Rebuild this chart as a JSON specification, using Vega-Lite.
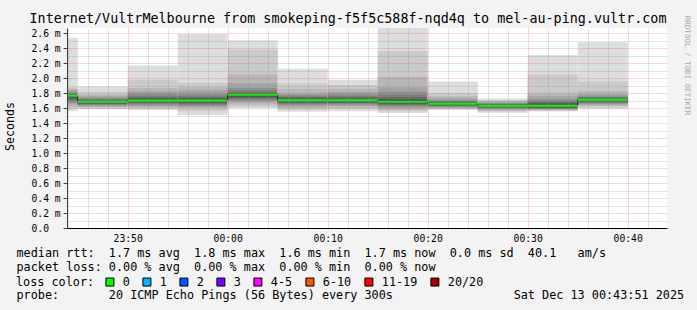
{
  "$schema": "https://vega.github.io/schema/vega-lite/v6.json",
  "width": 600,
  "height": 200,
  "autosize": {"type": "none"},
  "padding": {"left": 67, "top": 28, "right": 30, "bottom": 82},
  "background": "#f3f3f3",
  "view": {"fill": "white", "stroke": null},
  "config": {
    "font": "DejaVu Sans Mono",
    "axis": {"labelFont": "DejaVu Sans Mono", "titleFont": "DejaVu Sans Mono", "titleFontWeight": "normal", "labelColor": "black", "titleColor": "black"},
    "legend": {"labelFont": "DejaVu Sans Mono", "titleFont": "DejaVu Sans Mono"}
  },
  "title": {
    "text": "Internet/VultrMelbourne from smokeping-f5f5c588f-nqd4q to mel-au-ping.vultr.com",
    "font": "DejaVu Sans Mono",
    "fontSize": 13.4,
    "fontWeight": "normal",
    "color": "black",
    "anchor": "middle",
    "dx": -19,
    "dy": 14,
    "offset": 4
  },
  "datasets": {
    "bands": [
      {"start": "2025-12-12T23:40:00Z", "end": "2025-12-12T23:45:00Z", "band": 1, "lo": 1.557, "hi": 2.54},
      {"start": "2025-12-12T23:40:00Z", "end": "2025-12-12T23:45:00Z", "band": 2, "lo": 1.59, "hi": 1.88},
      {"start": "2025-12-12T23:40:00Z", "end": "2025-12-12T23:45:00Z", "band": 3, "lo": 1.62, "hi": 1.86},
      {"start": "2025-12-12T23:40:00Z", "end": "2025-12-12T23:45:00Z", "band": 4, "lo": 1.65, "hi": 1.84},
      {"start": "2025-12-12T23:40:00Z", "end": "2025-12-12T23:45:00Z", "band": 5, "lo": 1.67, "hi": 1.82},
      {"start": "2025-12-12T23:40:00Z", "end": "2025-12-12T23:45:00Z", "band": 6, "lo": 1.69, "hi": 1.8},
      {"start": "2025-12-12T23:40:00Z", "end": "2025-12-12T23:45:00Z", "band": 7, "lo": 1.71, "hi": 1.79},
      {"start": "2025-12-12T23:40:00Z", "end": "2025-12-12T23:45:00Z", "band": 8, "lo": 1.73, "hi": 1.78},
      {"start": "2025-12-12T23:40:00Z", "end": "2025-12-12T23:45:00Z", "band": 9, "lo": 1.75, "hi": 1.775},
      {"start": "2025-12-12T23:40:00Z", "end": "2025-12-12T23:45:00Z", "band": 10, "lo": 1.76, "hi": 1.77},

      {"start": "2025-12-12T23:45:00Z", "end": "2025-12-12T23:50:00Z", "band": 1, "lo": 1.59, "hi": 1.89},
      {"start": "2025-12-12T23:45:00Z", "end": "2025-12-12T23:50:00Z", "band": 2, "lo": 1.6, "hi": 1.82},
      {"start": "2025-12-12T23:45:00Z", "end": "2025-12-12T23:50:00Z", "band": 3, "lo": 1.612, "hi": 1.78},
      {"start": "2025-12-12T23:45:00Z", "end": "2025-12-12T23:50:00Z", "band": 4, "lo": 1.625, "hi": 1.76},
      {"start": "2025-12-12T23:45:00Z", "end": "2025-12-12T23:50:00Z", "band": 5, "lo": 1.635, "hi": 1.74},
      {"start": "2025-12-12T23:45:00Z", "end": "2025-12-12T23:50:00Z", "band": 6, "lo": 1.645, "hi": 1.725},
      {"start": "2025-12-12T23:45:00Z", "end": "2025-12-12T23:50:00Z", "band": 7, "lo": 1.655, "hi": 1.71},
      {"start": "2025-12-12T23:45:00Z", "end": "2025-12-12T23:50:00Z", "band": 8, "lo": 1.665, "hi": 1.7},
      {"start": "2025-12-12T23:45:00Z", "end": "2025-12-12T23:50:00Z", "band": 9, "lo": 1.675, "hi": 1.695},
      {"start": "2025-12-12T23:45:00Z", "end": "2025-12-12T23:50:00Z", "band": 10, "lo": 1.682, "hi": 1.69},

      {"start": "2025-12-12T23:50:00Z", "end": "2025-12-12T23:55:00Z", "band": 1, "lo": 1.575, "hi": 2.17},
      {"start": "2025-12-12T23:50:00Z", "end": "2025-12-12T23:55:00Z", "band": 2, "lo": 1.595, "hi": 1.98},
      {"start": "2025-12-12T23:50:00Z", "end": "2025-12-12T23:55:00Z", "band": 3, "lo": 1.61, "hi": 1.87},
      {"start": "2025-12-12T23:50:00Z", "end": "2025-12-12T23:55:00Z", "band": 4, "lo": 1.625, "hi": 1.83},
      {"start": "2025-12-12T23:50:00Z", "end": "2025-12-12T23:55:00Z", "band": 5, "lo": 1.64, "hi": 1.8},
      {"start": "2025-12-12T23:50:00Z", "end": "2025-12-12T23:55:00Z", "band": 6, "lo": 1.655, "hi": 1.77},
      {"start": "2025-12-12T23:50:00Z", "end": "2025-12-12T23:55:00Z", "band": 7, "lo": 1.67, "hi": 1.75},
      {"start": "2025-12-12T23:50:00Z", "end": "2025-12-12T23:55:00Z", "band": 8, "lo": 1.68, "hi": 1.73},
      {"start": "2025-12-12T23:50:00Z", "end": "2025-12-12T23:55:00Z", "band": 9, "lo": 1.69, "hi": 1.72},
      {"start": "2025-12-12T23:50:00Z", "end": "2025-12-12T23:55:00Z", "band": 10, "lo": 1.7, "hi": 1.71},

      {"start": "2025-12-12T23:55:00Z", "end": "2025-12-13T00:00:00Z", "band": 1, "lo": 1.505, "hi": 2.59},
      {"start": "2025-12-12T23:55:00Z", "end": "2025-12-13T00:00:00Z", "band": 2, "lo": 1.56, "hi": 1.94},
      {"start": "2025-12-12T23:55:00Z", "end": "2025-12-13T00:00:00Z", "band": 3, "lo": 1.6, "hi": 1.88},
      {"start": "2025-12-12T23:55:00Z", "end": "2025-12-13T00:00:00Z", "band": 4, "lo": 1.615, "hi": 1.84},
      {"start": "2025-12-12T23:55:00Z", "end": "2025-12-13T00:00:00Z", "band": 5, "lo": 1.63, "hi": 1.8},
      {"start": "2025-12-12T23:55:00Z", "end": "2025-12-13T00:00:00Z", "band": 6, "lo": 1.645, "hi": 1.77},
      {"start": "2025-12-12T23:55:00Z", "end": "2025-12-13T00:00:00Z", "band": 7, "lo": 1.66, "hi": 1.75},
      {"start": "2025-12-12T23:55:00Z", "end": "2025-12-13T00:00:00Z", "band": 8, "lo": 1.675, "hi": 1.73},
      {"start": "2025-12-12T23:55:00Z", "end": "2025-12-13T00:00:00Z", "band": 9, "lo": 1.69, "hi": 1.72},
      {"start": "2025-12-12T23:55:00Z", "end": "2025-12-13T00:00:00Z", "band": 10, "lo": 1.7, "hi": 1.71},

      {"start": "2025-12-13T00:00:00Z", "end": "2025-12-13T00:05:00Z", "band": 1, "lo": 1.597, "hi": 2.505},
      {"start": "2025-12-13T00:00:00Z", "end": "2025-12-13T00:05:00Z", "band": 2, "lo": 1.62, "hi": 2.38},
      {"start": "2025-12-13T00:00:00Z", "end": "2025-12-13T00:05:00Z", "band": 3, "lo": 1.65, "hi": 2.05},
      {"start": "2025-12-13T00:00:00Z", "end": "2025-12-13T00:05:00Z", "band": 4, "lo": 1.68, "hi": 1.935},
      {"start": "2025-12-13T00:00:00Z", "end": "2025-12-13T00:05:00Z", "band": 5, "lo": 1.7, "hi": 1.87},
      {"start": "2025-12-13T00:00:00Z", "end": "2025-12-13T00:05:00Z", "band": 6, "lo": 1.717, "hi": 1.84},
      {"start": "2025-12-13T00:00:00Z", "end": "2025-12-13T00:05:00Z", "band": 7, "lo": 1.73, "hi": 1.81},
      {"start": "2025-12-13T00:00:00Z", "end": "2025-12-13T00:05:00Z", "band": 8, "lo": 1.745, "hi": 1.8},
      {"start": "2025-12-13T00:00:00Z", "end": "2025-12-13T00:05:00Z", "band": 9, "lo": 1.76, "hi": 1.79},
      {"start": "2025-12-13T00:00:00Z", "end": "2025-12-13T00:05:00Z", "band": 10, "lo": 1.775, "hi": 1.785},

      {"start": "2025-12-13T00:05:00Z", "end": "2025-12-13T00:10:00Z", "band": 1, "lo": 1.553, "hi": 2.127},
      {"start": "2025-12-13T00:05:00Z", "end": "2025-12-13T00:10:00Z", "band": 2, "lo": 1.58, "hi": 1.93},
      {"start": "2025-12-13T00:05:00Z", "end": "2025-12-13T00:10:00Z", "band": 3, "lo": 1.6, "hi": 1.855},
      {"start": "2025-12-13T00:05:00Z", "end": "2025-12-13T00:10:00Z", "band": 4, "lo": 1.62, "hi": 1.8},
      {"start": "2025-12-13T00:05:00Z", "end": "2025-12-13T00:10:00Z", "band": 5, "lo": 1.64, "hi": 1.78},
      {"start": "2025-12-13T00:05:00Z", "end": "2025-12-13T00:10:00Z", "band": 6, "lo": 1.655, "hi": 1.76},
      {"start": "2025-12-13T00:05:00Z", "end": "2025-12-13T00:10:00Z", "band": 7, "lo": 1.67, "hi": 1.745},
      {"start": "2025-12-13T00:05:00Z", "end": "2025-12-13T00:10:00Z", "band": 8, "lo": 1.68, "hi": 1.73},
      {"start": "2025-12-13T00:05:00Z", "end": "2025-12-13T00:10:00Z", "band": 9, "lo": 1.69, "hi": 1.72},
      {"start": "2025-12-13T00:05:00Z", "end": "2025-12-13T00:10:00Z", "band": 10, "lo": 1.7, "hi": 1.71},

      {"start": "2025-12-13T00:10:00Z", "end": "2025-12-13T00:15:00Z", "band": 1, "lo": 1.56, "hi": 1.98},
      {"start": "2025-12-13T00:10:00Z", "end": "2025-12-13T00:15:00Z", "band": 2, "lo": 1.59, "hi": 1.91},
      {"start": "2025-12-13T00:10:00Z", "end": "2025-12-13T00:15:00Z", "band": 3, "lo": 1.61, "hi": 1.86},
      {"start": "2025-12-13T00:10:00Z", "end": "2025-12-13T00:15:00Z", "band": 4, "lo": 1.63, "hi": 1.82},
      {"start": "2025-12-13T00:10:00Z", "end": "2025-12-13T00:15:00Z", "band": 5, "lo": 1.645, "hi": 1.79},
      {"start": "2025-12-13T00:10:00Z", "end": "2025-12-13T00:15:00Z", "band": 6, "lo": 1.66, "hi": 1.765},
      {"start": "2025-12-13T00:10:00Z", "end": "2025-12-13T00:15:00Z", "band": 7, "lo": 1.67, "hi": 1.745},
      {"start": "2025-12-13T00:10:00Z", "end": "2025-12-13T00:15:00Z", "band": 8, "lo": 1.68, "hi": 1.73},
      {"start": "2025-12-13T00:10:00Z", "end": "2025-12-13T00:15:00Z", "band": 9, "lo": 1.69, "hi": 1.72},
      {"start": "2025-12-13T00:10:00Z", "end": "2025-12-13T00:15:00Z", "band": 10, "lo": 1.7, "hi": 1.71},

      {"start": "2025-12-13T00:15:00Z", "end": "2025-12-13T00:20:00Z", "band": 1, "lo": 1.535, "hi": 2.67},
      {"start": "2025-12-13T00:15:00Z", "end": "2025-12-13T00:20:00Z", "band": 2, "lo": 1.56, "hi": 2.36},
      {"start": "2025-12-13T00:15:00Z", "end": "2025-12-13T00:20:00Z", "band": 3, "lo": 1.58, "hi": 2.02},
      {"start": "2025-12-13T00:15:00Z", "end": "2025-12-13T00:20:00Z", "band": 4, "lo": 1.6, "hi": 1.88},
      {"start": "2025-12-13T00:15:00Z", "end": "2025-12-13T00:20:00Z", "band": 5, "lo": 1.62, "hi": 1.82},
      {"start": "2025-12-13T00:15:00Z", "end": "2025-12-13T00:20:00Z", "band": 6, "lo": 1.635, "hi": 1.78},
      {"start": "2025-12-13T00:15:00Z", "end": "2025-12-13T00:20:00Z", "band": 7, "lo": 1.65, "hi": 1.75},
      {"start": "2025-12-13T00:15:00Z", "end": "2025-12-13T00:20:00Z", "band": 8, "lo": 1.66, "hi": 1.72},
      {"start": "2025-12-13T00:15:00Z", "end": "2025-12-13T00:20:00Z", "band": 9, "lo": 1.67, "hi": 1.705},
      {"start": "2025-12-13T00:15:00Z", "end": "2025-12-13T00:20:00Z", "band": 10, "lo": 1.68, "hi": 1.695},

      {"start": "2025-12-13T00:20:00Z", "end": "2025-12-13T00:25:00Z", "band": 1, "lo": 1.58, "hi": 1.957},
      {"start": "2025-12-13T00:20:00Z", "end": "2025-12-13T00:25:00Z", "band": 2, "lo": 1.585, "hi": 1.8},
      {"start": "2025-12-13T00:20:00Z", "end": "2025-12-13T00:25:00Z", "band": 3, "lo": 1.595, "hi": 1.76},
      {"start": "2025-12-13T00:20:00Z", "end": "2025-12-13T00:25:00Z", "band": 4, "lo": 1.605, "hi": 1.73},
      {"start": "2025-12-13T00:20:00Z", "end": "2025-12-13T00:25:00Z", "band": 5, "lo": 1.615, "hi": 1.71},
      {"start": "2025-12-13T00:20:00Z", "end": "2025-12-13T00:25:00Z", "band": 6, "lo": 1.625, "hi": 1.695},
      {"start": "2025-12-13T00:20:00Z", "end": "2025-12-13T00:25:00Z", "band": 7, "lo": 1.635, "hi": 1.685},
      {"start": "2025-12-13T00:20:00Z", "end": "2025-12-13T00:25:00Z", "band": 8, "lo": 1.64, "hi": 1.675},
      {"start": "2025-12-13T00:20:00Z", "end": "2025-12-13T00:25:00Z", "band": 9, "lo": 1.65, "hi": 1.67},
      {"start": "2025-12-13T00:20:00Z", "end": "2025-12-13T00:25:00Z", "band": 10, "lo": 1.655, "hi": 1.665},

      {"start": "2025-12-13T00:25:00Z", "end": "2025-12-13T00:30:00Z", "band": 1, "lo": 1.54, "hi": 1.73},
      {"start": "2025-12-13T00:25:00Z", "end": "2025-12-13T00:30:00Z", "band": 2, "lo": 1.555, "hi": 1.71},
      {"start": "2025-12-13T00:25:00Z", "end": "2025-12-13T00:30:00Z", "band": 3, "lo": 1.57, "hi": 1.695},
      {"start": "2025-12-13T00:25:00Z", "end": "2025-12-13T00:30:00Z", "band": 4, "lo": 1.58, "hi": 1.68},
      {"start": "2025-12-13T00:25:00Z", "end": "2025-12-13T00:30:00Z", "band": 5, "lo": 1.59, "hi": 1.67},
      {"start": "2025-12-13T00:25:00Z", "end": "2025-12-13T00:30:00Z", "band": 6, "lo": 1.6, "hi": 1.66},
      {"start": "2025-12-13T00:25:00Z", "end": "2025-12-13T00:30:00Z", "band": 7, "lo": 1.61, "hi": 1.655},
      {"start": "2025-12-13T00:25:00Z", "end": "2025-12-13T00:30:00Z", "band": 8, "lo": 1.618, "hi": 1.648},
      {"start": "2025-12-13T00:25:00Z", "end": "2025-12-13T00:30:00Z", "band": 9, "lo": 1.625, "hi": 1.642},
      {"start": "2025-12-13T00:25:00Z", "end": "2025-12-13T00:30:00Z", "band": 10, "lo": 1.63, "hi": 1.637},

      {"start": "2025-12-13T00:30:00Z", "end": "2025-12-13T00:35:00Z", "band": 1, "lo": 1.555, "hi": 2.31},
      {"start": "2025-12-13T00:30:00Z", "end": "2025-12-13T00:35:00Z", "band": 2, "lo": 1.565, "hi": 2.05},
      {"start": "2025-12-13T00:30:00Z", "end": "2025-12-13T00:35:00Z", "band": 3, "lo": 1.575, "hi": 1.8},
      {"start": "2025-12-13T00:30:00Z", "end": "2025-12-13T00:35:00Z", "band": 4, "lo": 1.58, "hi": 1.76},
      {"start": "2025-12-13T00:30:00Z", "end": "2025-12-13T00:35:00Z", "band": 5, "lo": 1.59, "hi": 1.72},
      {"start": "2025-12-13T00:30:00Z", "end": "2025-12-13T00:35:00Z", "band": 6, "lo": 1.595, "hi": 1.7},
      {"start": "2025-12-13T00:30:00Z", "end": "2025-12-13T00:35:00Z", "band": 7, "lo": 1.6, "hi": 1.68},
      {"start": "2025-12-13T00:30:00Z", "end": "2025-12-13T00:35:00Z", "band": 8, "lo": 1.61, "hi": 1.665},
      {"start": "2025-12-13T00:30:00Z", "end": "2025-12-13T00:35:00Z", "band": 9, "lo": 1.62, "hi": 1.65},
      {"start": "2025-12-13T00:30:00Z", "end": "2025-12-13T00:35:00Z", "band": 10, "lo": 1.628, "hi": 1.64},

      {"start": "2025-12-13T00:35:00Z", "end": "2025-12-13T00:40:00Z", "band": 1, "lo": 1.593, "hi": 2.48},
      {"start": "2025-12-13T00:35:00Z", "end": "2025-12-13T00:40:00Z", "band": 2, "lo": 1.61, "hi": 1.96},
      {"start": "2025-12-13T00:35:00Z", "end": "2025-12-13T00:40:00Z", "band": 3, "lo": 1.63, "hi": 1.83},
      {"start": "2025-12-13T00:35:00Z", "end": "2025-12-13T00:40:00Z", "band": 4, "lo": 1.645, "hi": 1.79},
      {"start": "2025-12-13T00:35:00Z", "end": "2025-12-13T00:40:00Z", "band": 5, "lo": 1.66, "hi": 1.765},
      {"start": "2025-12-13T00:35:00Z", "end": "2025-12-13T00:40:00Z", "band": 6, "lo": 1.67, "hi": 1.75},
      {"start": "2025-12-13T00:35:00Z", "end": "2025-12-13T00:40:00Z", "band": 7, "lo": 1.68, "hi": 1.74},
      {"start": "2025-12-13T00:35:00Z", "end": "2025-12-13T00:40:00Z", "band": 8, "lo": 1.69, "hi": 1.73},
      {"start": "2025-12-13T00:35:00Z", "end": "2025-12-13T00:40:00Z", "band": 9, "lo": 1.7, "hi": 1.72},
      {"start": "2025-12-13T00:35:00Z", "end": "2025-12-13T00:40:00Z", "band": 10, "lo": 1.71, "hi": 1.715}
    ],
    "median": [
      {"start": "2025-12-12T23:40:00Z", "end": "2025-12-12T23:45:00Z", "med": 1.766, "loss": "0"},
      {"start": "2025-12-12T23:45:00Z", "end": "2025-12-12T23:50:00Z", "med": 1.686, "loss": "0"},
      {"start": "2025-12-12T23:50:00Z", "end": "2025-12-12T23:55:00Z", "med": 1.702, "loss": "0"},
      {"start": "2025-12-12T23:55:00Z", "end": "2025-12-13T00:00:00Z", "med": 1.702, "loss": "0"},
      {"start": "2025-12-13T00:00:00Z", "end": "2025-12-13T00:05:00Z", "med": 1.78, "loss": "0"},
      {"start": "2025-12-13T00:05:00Z", "end": "2025-12-13T00:10:00Z", "med": 1.704, "loss": "0"},
      {"start": "2025-12-13T00:10:00Z", "end": "2025-12-13T00:15:00Z", "med": 1.704, "loss": "0"},
      {"start": "2025-12-13T00:15:00Z", "end": "2025-12-13T00:20:00Z", "med": 1.686, "loss": "0"},
      {"start": "2025-12-13T00:20:00Z", "end": "2025-12-13T00:25:00Z", "med": 1.66, "loss": "0"},
      {"start": "2025-12-13T00:25:00Z", "end": "2025-12-13T00:30:00Z", "med": 1.633, "loss": "0"},
      {"start": "2025-12-13T00:30:00Z", "end": "2025-12-13T00:35:00Z", "med": 1.633, "loss": "0"},
      {"start": "2025-12-13T00:35:00Z", "end": "2025-12-13T00:40:00Z", "med": 1.713, "loss": "0"}
    ]
  },
  "layer": [
    {
      "data": {"name": "bands"},
      "mark": {"type": "rect", "clip": true},
      "encoding": {
        "x": {
          "field": "start", "type": "temporal",
          "scale": {"type": "utc", "domain": [1765583036000, 1765586636000]},
          "axis": {
            "orient": "bottom",
            "values": [1765583400000, 1765584000000, 1765584600000, 1765585200000, 1765585800000, 1765586400000],
            "labelExpr": "utcFormat(datum.value, '%H:%M')",
            "labelFontSize": 9.7,
            "labelPadding": 5,
            "labelFlush": false,
            "labelOverlap": false,
            "ticks": false,
            "domainColor": "black",
            "domainWidth": 1,
            "grid": true,
            "gridColor": "#de5050",
            "gridOpacity": 0.45,
            "gridDash": [1, 1],
            "gridWidth": 1,
            "zindex": 2,
            "title": [
              "median rtt:\u00a0\u00a01.7 ms avg\u00a0\u00a01.8 ms max\u00a0\u00a01.6 ms min\u00a0\u00a01.7 ms now\u00a0\u00a00.0 ms sd\u00a0\u00a040.1\u00a0\u00a0\u00a0am/s",
              "packet loss:\u00a00.00 % avg\u00a0\u00a00.00 % max\u00a0\u00a00.00 % min\u00a0\u00a00.00 % now"
            ],
            "titleFontSize": 11.8,
            "titleAnchor": "start",
            "titleAlign": "left",
            "titleBaseline": "top",
            "titleX": -51,
            "titleY": 19,
            "titleLineHeight": 14
          }
        },
        "x2": {"field": "end"},
        "y": {
          "field": "lo", "type": "quantitative",
          "scale": {"domain": [0, 2.67], "nice": false, "zero": true},
          "axis": {
            "orient": "left",
            "values": [0, 0.2, 0.4, 0.6, 0.8, 1.0, 1.2, 1.4, 1.6, 1.8, 2.0, 2.2, 2.4, 2.6],
            "labelExpr": "datum.value == 0 ? '0.0' : format(datum.value, '.1f') + ' m'",
            "labelAlign": "left",
            "labelFontSize": 9.7,
            "labelPadding": 32,
            "ticks": true,
            "tickSize": 4,
            "tickColor": "#404040",
            "domainColor": "#404040",
            "grid": true,
            "gridColor": "#de5050",
            "gridOpacity": 0.45,
            "gridDash": [1, 1],
            "gridWidth": 1,
            "zindex": 2,
            "title": "Seconds",
            "titleFontSize": 11.6,
            "titleAngle": -90,
            "titleX": -57,
            "titleY": 98,
            "titleAlign": "center",
            "titleBaseline": "middle"
          }
        },
        "y2": {"field": "hi"},
        "fill": {
          "field": "band", "type": "ordinal",
          "scale": {"domain": [1, 2, 3, 4, 5, 6, 7, 8, 9, 10],
                    "range": ["#dddddd", "#cacaca", "#b7b7b7", "#a4a4a4", "#919191", "#7e7e7e", "#6b6b6b", "#585858", "#454545", "#323232"]},
          "legend": null
        }
      }
    },
    {
      "data": {"name": "median"},
      "mark": {"type": "square", "size": 0, "clip": true},
      "encoding": {
        "x": {
          "field": "start", "type": "temporal",
          "axis": {
            "orient": "top",
            "values": [1765583040000, 1765583160000, 1765583280000, 1765583520000, 1765583640000, 1765583760000, 1765583880000, 1765584120000, 1765584240000, 1765584360000, 1765584480000, 1765584720000, 1765584840000, 1765584960000, 1765585080000, 1765585320000, 1765585440000, 1765585560000, 1765585680000, 1765585920000, 1765586040000, 1765586160000, 1765586280000, 1765586520000],
            "labels": false, "ticks": false, "domain": false,
            "grid": true, "gridColor": "#8f8f8f", "gridOpacity": 0.5, "gridDash": [1, 1], "gridWidth": 1,
            "zindex": 1,
            "title": "probe:\u00a0\u00a0\u00a0\u00a0\u00a0\u00a0\u00a020 ICMP Echo Pings (56 Bytes) every 300s\u00a0\u00a0\u00a0\u00a0\u00a0\u00a0\u00a0\u00a0\u00a0\u00a0\u00a0\u00a0\u00a0\u00a0\u00a0\u00a0\u00a0Sat Dec 13 00:43:51 2025",
            "titleFontSize": 11.8,
            "titleAnchor": "start",
            "titleAlign": "left",
            "titleBaseline": "top",
            "titleX": -51,
            "titleY": 261
          }
        },
        "y": {
          "field": "med", "type": "quantitative",
          "axis": {
            "orient": "right",
            "values": [0.1, 0.3, 0.5, 0.7, 0.9, 1.1, 1.3, 1.5, 1.7, 1.9, 2.1, 2.3, 2.5],
            "labels": false, "ticks": false, "domain": false,
            "grid": true, "gridColor": "#8f8f8f", "gridOpacity": 0.5, "gridDash": [1, 1], "gridWidth": 1,
            "zindex": 1,
            "title": "RRDTOOL / TOBI OETIKER",
            "titleFontSize": 7.5,
            "titleColor": "#a8a8a8",
            "titleAngle": 90,
            "titleX": 19,
            "titleY": 37,
            "titleAlign": "center",
            "titleBaseline": "middle"
          }
        },
        "color": {
          "field": "loss", "type": "nominal",
          "scale": {"domain": ["0", "1", "2", "3", "4-5", "6-10", "11-19", "20/20"],
                    "range": ["#00ff00", "#00b8ff", "#0059ff", "#7e00ff", "#ff00ff", "#ff5500", "#ff0000", "#a10000"]},
          "legend": {
            "orient": "none",
            "legendX": -51,
            "legendY": 248,
            "direction": "horizontal",
            "title": "loss color:",
            "titleOrient": "left",
            "titleFontSize": 11.8,
            "titleFontWeight": "normal",
            "titleColor": "black",
            "titlePadding": 9,
            "symbolType": "square",
            "symbolSize": 64,
            "symbolOpacity": 1,
            "symbolStrokeColor": "black",
            "symbolStrokeWidth": 1,
            "labelFontSize": 11.8,
            "labelColor": "black",
            "labelOffset": 7,
            "columnPadding": 10,
            "padding": 0
          }
        }
      }
    },
    {
      "data": {"name": "median"},
      "mark": {"type": "line", "interpolate": "step-after", "color": "#202020", "strokeWidth": 1, "clip": true},
      "encoding": {
        "x": {"field": "start", "type": "temporal", "axis": null},
        "y": {"field": "med", "type": "quantitative", "axis": null}
      }
    },
    {
      "data": {"name": "median"},
      "mark": {"type": "rule", "color": "#00ff00", "strokeWidth": 2, "clip": true},
      "encoding": {
        "x": {"field": "start", "type": "temporal", "axis": null},
        "x2": {"field": "end"},
        "y": {"field": "med", "type": "quantitative", "axis": null}
      }
    }
  ],
  "resolve": {"axis": {"x": "independent", "y": "independent"}}
}
